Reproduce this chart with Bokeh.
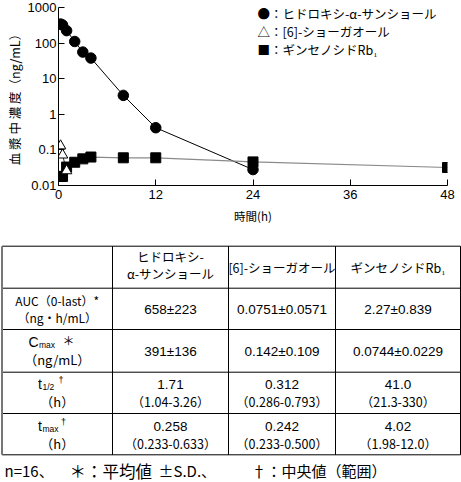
from bokeh.plotting import figure
from bokeh.models import Range1d, FixedTicker, CustomJSTickFormatter, Label
from bokeh.core.properties import value
from bokeh.embed import file_html
from bokeh.resources import INLINE

# ---------------- chart data ----------------
time_sanshool = [0.25, 0.5, 1, 2, 3, 4, 8, 12, 24]
conc_sanshool = [343, 323, 224, 111, 56, 38, 3.4, 0.42, 0.028]
time_shogaol = [0.25, 0.5, 1]
conc_shogaol = [0.13, 0.072, 0.026]
time_rb1 = [0.25, 0.5, 1, 2, 3, 4, 8, 12, 24, 48]
conc_rb1 = [0.018, 0.018, 0.033, 0.045, 0.056, 0.063, 0.060, 0.060, 0.046, 0.032]
x_ticks = [0, 12, 24, 36, 48]
y_ticks = [0.01, 0.1, 1, 10, 100, 1000]
legend_labels = ["●：ヒドロキシ-α-サンショール", "△：[6]-ショーガオール", "■：ギンセノシドRb₁"]
x_label = "時間(h)"
y_label = "血 漿 中 濃 度（ng/mL）"

# ---------------- table data ----------------
col_headers = [["ヒドロキシ-", "α-サンショール"], ["[6]-ショーガオール"], ["ギンセノシドRb₁"]]
auc_label = ["AUC（0-last）*", "（ng・h/mL）"]
cmax_unit = "（ng/mL）"
h_unit = "（h）"
auc_vals = ["658±223", "0.0751±0.0571", "2.27±0.839"]
cmax_vals = ["391±136", "0.142±0.109", "0.0744±0.0229"]
thalf_vals = ["1.71", "0.312", "41.0"]
thalf_ranges = ["（1.04-3.26）", "（0.286-0.793）", "（21.3-330）"]
tmax_vals = ["0.258", "0.242", "4.02"]
tmax_ranges = ["（0.233-0.633）", "（0.233-0.500）", "（1.98-12.0）"]
footnote_parts = ["n=16、", "＊：平均値", "±S.D.、", "†：中央値（範囲）"]

JP = "Noto Sans CJK JP"
LAT = "Liberation Sans"

W = 461
H1 = 236
H2 = 482 - H1

# ---------------- chart ----------------
p = figure(width=W, height=H1, y_axis_type="log",
           x_range=Range1d(0, 48), y_range=Range1d(0.01, 1000),
           output_backend="svg", toolbar_location=None,
           min_border_left=58, min_border_right=14, min_border_top=7, min_border_bottom=51)
p.outline_line_color = None
p.xgrid.visible = False
p.ygrid.visible = False

p.line(time_sanshool, conc_sanshool, line_color="black", line_width=1)
p.line(time_rb1, conc_rb1, line_color="#8a8a8a", line_width=1.2)
p.line(time_shogaol, conc_shogaol, line_color="black", line_width=0.8)
p.scatter(time_rb1, conc_rb1, marker="square", size=10, fill_color="black", line_color="black")
p.scatter(time_sanshool, conc_sanshool, marker="circle", size=10.5, fill_color="black", line_color="black")
p.scatter(time_shogaol, conc_shogaol, marker="triangle", size=10.5, fill_color="white", line_color="black")

p.xaxis.ticker = FixedTicker(ticks=x_ticks)
p.yaxis.ticker = FixedTicker(ticks=y_ticks)
p.yaxis.formatter = CustomJSTickFormatter(code="return String(tick)")
for ax in (p.xaxis, p.yaxis):
    ax.major_tick_in = 6
    ax.major_tick_out = 0
    ax.minor_tick_line_color = None
    ax.axis_line_color = "black"
    ax.major_tick_line_color = "black"
    ax.major_label_text_font = LAT
    ax.major_label_text_font_size = "13px"
    ax.major_label_text_color = "black"
    ax.axis_label_text_font = JP
    ax.axis_label_text_font_style = "normal"
    ax.axis_label_text_color = "black"
p.xaxis.major_label_standoff = 4
p.yaxis.major_label_standoff = 2
p.xaxis.axis_label = x_label
p.xaxis.axis_label_text_font_size = "11.5px"
p.xaxis.axis_label_standoff = 6
p.yaxis.axis_label = y_label
p.yaxis.axis_label_text_font_size = "12.5px"
p.yaxis.axis_label_standoff = 1

for i, txt in enumerate(legend_labels):
    p.add_layout(Label(x=199, y=172 - 18 * i, x_units="screen", y_units="screen",
                       text=txt, text_font=JP, text_font_size="12.5px",
                       text_baseline="middle", text_align="left", text_color="black"))

# ---------------- table ----------------
t = figure(width=W, height=H2, x_range=Range1d(0, 461), y_range=Range1d(482, 236),
           output_backend="svg", toolbar_location=None, min_border=0,
           x_axis_location=None, y_axis_location=None)
t.outline_line_color = None
t.grid.visible = False

row_edges = [245.7, 287.7, 329, 371.7, 413, 454.3]
col_edges = [1.5, 112, 228, 335, 460]
col_centers = [(col_edges[i] + col_edges[i + 1]) / 2 for i in range(4)]

t.segment(x0=[col_edges[0]] * len(row_edges), x1=[col_edges[-1]] * len(row_edges),
          y0=row_edges, y1=row_edges, line_color="black", line_width=1)
t.segment(x0=col_edges[1:], x1=col_edges[1:], y0=[row_edges[0]] * 4, y1=[row_edges[-1]] * 4,
          line_color="black", line_width=1)
t.segment(x0=[col_edges[0]], x1=[col_edges[0]], y0=[row_edges[0]], y1=[row_edges[-1]],
          line_color="#777777", line_width=2)

def txt(xs, ys, texts, font=JP, size="12px", align="center"):
    t.text(x=xs, y=ys, text=texts, text_font=value(font), text_font_size=value(size),
           text_align=align, text_baseline="middle", text_color="black")

# header
txt([col_centers[1], col_centers[1]], [255.5, 272.5], col_headers[0], size="12.5px")
txt([col_centers[2], col_centers[3]], [266.5, 266.5], [col_headers[1][0], col_headers[2][0]], size="12.5px")

# row labels
txt([col_centers[0], col_centers[0]], [299.5, 317], auc_label, size="12px")
txt([28], [341], ["C"], font=LAT, size="14px", align="left")
txt([38.5], [344.5], ["max"], font=LAT, size="8.5px", align="left")
txt([68], [340], ["＊"], size="12px")
txt([col_centers[0]], [358.5], [cmax_unit], size="13px")
txt([37.5], [383], ["t"], font=LAT, size="14px", align="left")
txt([42], [386.5], ["1/2"], font=LAT, size="8.5px", align="left")
txt([58], [379], ["†"], font=LAT, size="9px", align="left")
txt([col_centers[0]], [400.5], [h_unit], size="13px")
txt([37.5], [425], ["t"], font=LAT, size="14px", align="left")
txt([42], [428.5], ["max"], font=LAT, size="8.5px", align="left")
txt([60.5], [421], ["†"], font=LAT, size="9px", align="left")
txt([col_centers[0]], [442.5], [h_unit], size="13px")

# values
vx = col_centers[1:]
txt(vx, [308.5] * 3, auc_vals, font=LAT, size="13.5px")
txt(vx, [350.5] * 3, cmax_vals, font=LAT, size="13.5px")
txt(vx, [384] * 3, thalf_vals, font=LAT, size="13.5px")
txt(vx, [400.5] * 3, thalf_ranges, size="12.5px")
txt(vx, [426] * 3, tmax_vals, font=LAT, size="13.5px")
txt(vx, [442.5] * 3, tmax_ranges, size="12.5px")

# footnote
txt([4], [470], [footnote_parts[0]], size="15px", align="left")
txt([69], [470], [footnote_parts[1]], size="16.5px", align="left")
txt([158], [470], [footnote_parts[2]], size="15px", align="left")
txt([251], [470], [footnote_parts[3]], size="15px", align="left")

open("out.html", "w").write(file_html([p, t], INLINE))
